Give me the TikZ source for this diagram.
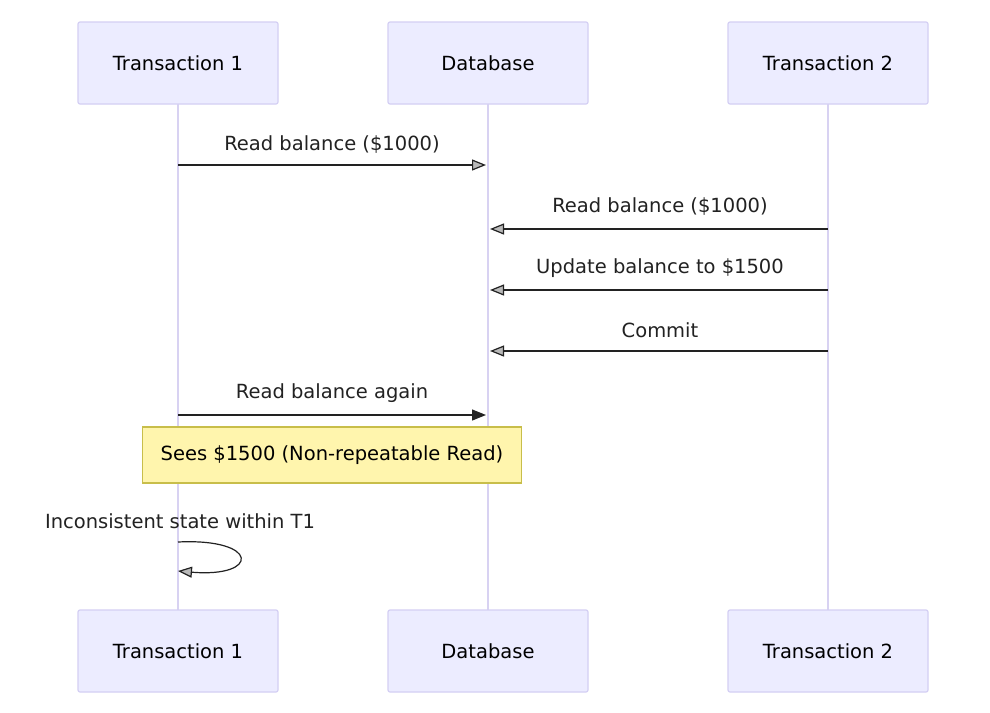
\documentclass[tikz,border=0pt]{standalone}
\usepackage{fontspec}
\setmainfont{DejaVu Sans}
\usetikzlibrary{arrows.meta,patterns}
\definecolor{actfill}{HTML}{ECECFF}
\definecolor{actdraw}{HTML}{D4CFF3}
\definecolor{lifeline}{HTML}{D8D2F2}
\definecolor{notefill}{HTML}{FFF5AD}
\definecolor{notedraw}{HTML}{C8BE4A}
\definecolor{ink}{HTML}{222222}
\tikzset{
  actor/.style={draw=actdraw, line width=1.2pt, fill=actfill, rounded corners=2pt,
    minimum width=200pt, minimum height=82pt, inner sep=0pt,
    font=\fontsize{19.5}{22}\selectfont},
  life/.style={draw=lifeline, line width=1.8pt},
  msg/.style={draw=ink, line width=1.2pt, -{Triangle[length=14pt,width=11pt,fill=gray!55]}},
  msgf/.style={draw=ink, line width=1.2pt, -{Triangle[length=14pt,width=11pt]}},
  lbl/.style={font=\fontsize{19.5}{22}\selectfont, text=ink, inner sep=0pt},
  note/.style={draw=notedraw, line width=1.2pt, fill=notefill, minimum width=379pt,
    minimum height=56pt, inner sep=0pt, font=\fontsize{19.5}{22}\selectfont}
}
\begin{document}
\begin{tikzpicture}[x=1pt,y=-1pt]
\useasboundingbox[fill=white] (0,0) rectangle (990,712);
% lifelines
\coordinate (l1t) at (178,104); \coordinate (l1b) at (178,610);
\coordinate (l2t) at (488,104); \coordinate (l2b) at (488,610);
\coordinate (l3t) at (828,104); \coordinate (l3b) at (828,610);
\draw[life] (l1t) -- (l1b);
\draw[life] (l2t) -- (l2b);
\draw[life] (l3t) -- (l3b);
% actors
\node[actor] (t1) at (178,63) {Transaction 1};
\node[actor] (db) at (488,63) {Database};
\node[actor] (t2) at (828,63) {Transaction 2};
\node[actor] (t1b) at (178,651) {Transaction 1};
\node[actor] (dbb) at (488,651) {Database};
\node[actor] (t2b) at (828,651) {Transaction 2};
% message anchors
\coordinate (a1) at (178,165); \coordinate (b1) at (486,165);
\coordinate (a2) at (828,229); \coordinate (b2) at (490,229);
\coordinate (a3) at (828,290); \coordinate (b3) at (490,290);
\coordinate (a4) at (828,351); \coordinate (b4) at (490,351);
\coordinate (a5) at (178,415); \coordinate (b5) at (486,415);
\draw[msg] (a1) -- (b1);
\node[lbl] (m1) at (332,145) {Read balance (\$1000)};
\draw[msg] (a2) -- (b2);
\node[lbl] (m2) at (660,207) {Read balance (\$1000)};
\draw[msg] (a3) -- (b3);
\node[lbl] (m3) at (660,268) {Update balance to \$1500};
\draw[msg] (a4) -- (b4);
\node[lbl] (m4) at (660,330) {Commit};
\draw[msgf] (a5) -- (b5);
\node[lbl] (m5) at (332,393) {Read balance again};
% note
\node[note] (nt) at (332,455) {Sees \$1500 (Non-repeatable Read)};
% self loop
\node[lbl] (m6) at (180,521) {Inconsistent state within T1};
\coordinate (s1) at (178,542); \coordinate (s2) at (178,571);
\draw[msg] (s1) .. controls (260,538) and (260,578) .. (s2);
\end{tikzpicture}
\end{document}
